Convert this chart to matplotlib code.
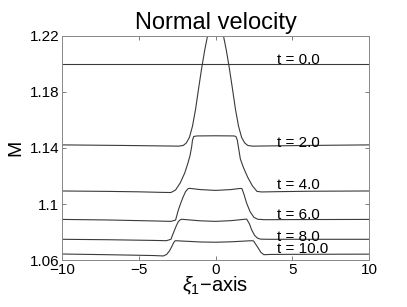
import matplotlib
matplotlib.use('Agg')
import matplotlib.pyplot as plt

plt.rcParams['font.family'] = ['Liberation Sans', 'DejaVu Sans']
plt.rcParams['mathtext.fontset'] = 'custom'
plt.rcParams['mathtext.rm'] = 'Liberation Sans'
plt.rcParams['mathtext.it'] = 'Liberation Sans:italic'

# curves: (x, M) for each time
x0 = [-10, 10]
m0 = [1.2000, 1.2000]

x2 = [-10, -6, -3, -2.4, -2.1, -1.9, -1.7, -1.5, -1.3, -1.1, -0.9, -0.7, -0.5, -0.3, 0,
      0.3, 0.5, 0.7, 0.9, 1.1, 1.3, 1.5, 1.7, 1.9, 2.1, 2.4, 3, 6, 10]
m2 = [1.1422, 1.1418, 1.1414, 1.1413, 1.1418, 1.1436, 1.1475, 1.1555, 1.1675, 1.1825, 1.1970, 1.2100, 1.2210, 1.2280, 1.2310,
      1.2280, 1.2210, 1.2100, 1.1970, 1.1825, 1.1675, 1.1555, 1.1475, 1.1436, 1.1418, 1.1413, 1.1414, 1.1418, 1.1422]

x4 = [-10, -7, -5, -3.5, -2.9, -2.6, -2.3, -2.0, -1.8, -1.65, -1.55, -1.5, -1.42, -1.2, 0, 1.2,
      1.33, 1.42, 1.5, 1.62, 1.82, 2.1, 2.4, 2.7, 3.0, 4, 6, 10]
m4 = [1.1093, 1.1090, 1.1087, 1.1083, 1.1082, 1.1100, 1.1150, 1.1222, 1.1290, 1.1350, 1.1410, 1.1455, 1.1482, 1.1486, 1.1487, 1.1486,
      1.1482, 1.1455, 1.1400, 1.1320, 1.1260, 1.1190, 1.1130, 1.1090, 1.1086, 1.1088, 1.1091, 1.1093]

x6 = [-10, -7, -4, -2.9, -2.6, -2.42, -2.25, -2.1, -1.95, -1.8, -1.7, -1.0, 0, 1.0, 1.6,
      1.72, 1.85, 2.03, 2.25, 2.5, 2.75, 3.2, 6, 10]
m6 = [1.0890, 1.0886, 1.0879, 1.0876, 1.0885, 1.0957, 1.1010, 1.1052, 1.1088, 1.1108, 1.1112, 1.1103, 1.1097, 1.1103, 1.1111,
      1.1110, 1.1070, 1.1005, 1.0945, 1.0905, 1.0891, 1.0888, 1.0889, 1.0890]

x8 = [-10, -7, -4, -3.2, -2.9, -2.75, -2.55, -2.42, -2.3, -2.2, -1.0, 0, 1.0, 1.9,
      2.03, 2.2, 2.36, 2.55, 2.75, 2.95, 3.5, 6, 10]
m8 = [1.0748, 1.0745, 1.0740, 1.0738, 1.0748, 1.0791, 1.0845, 1.0874, 1.0887, 1.0891, 1.0880, 1.0876, 1.0881, 1.0891,
      1.0892, 1.0860, 1.0814, 1.0775, 1.0755, 1.0749, 1.0748, 1.0748, 1.0748]

x10 = [-10, -7, -4, -3.4, -3.18, -3.0, -2.85, -2.72, -2.62, -1.0, 0, 1.0, 2.35,
       2.48, 2.62, 2.79, 2.95, 3.15, 3.6, 6, 10]
m10 = [1.0643, 1.0638, 1.0632, 1.0629, 1.0640, 1.0665, 1.0695, 1.0725, 1.0738, 1.0729, 1.0727, 1.0730, 1.0738,
       1.0736, 1.0712, 1.0684, 1.0655, 1.0638, 1.0640, 1.0641, 1.0642]

labels = ['t = 0.0', 't = 2.0', 't = 4.0', 't = 6.0', 't = 8.0', 't = 10.0']
label_y = [1.2030, 1.1437, 1.1135, 1.0924, 1.0762, 1.0678]

fig = plt.figure(figsize=(4.07, 3.07), dpi=100)
ax = fig.add_axes([0.152, 0.153, 0.755, 0.730])

col = '#3a3a3a'
for xs, ms in [(x0, m0), (x2, m2), (x4, m4), (x6, m6), (x8, m8), (x10, m10)]:
    ax.plot(xs, ms, '-', color=col, lw=0.8)

for lab, ly in zip(labels, label_y):
    ax.text(4.0, ly, lab, fontsize=11, va='center', ha='left', color='black')

ax.set_xlim(-10, 10)
ax.set_ylim(1.06, 1.22)
ax.set_xticks([-10, -5, 0, 5, 10])
ax.set_xticklabels(['\u221210', '\u22125', '0', '5', '10'])
ax.set_yticks([1.06, 1.1, 1.14, 1.18, 1.22])
ax.set_yticklabels(['1.06', '1.1', '1.14', '1.18', '1.22'])
ax.tick_params(direction='in', top=True, right=True, labelsize=11, length=3, width=0.6, color='#666666', pad=2)
for s in ax.spines.values():
    s.set_color('#888888')
    s.set_linewidth(0.7)

ax.set_title('Normal velocity', fontsize=17, pad=5)
ax.set_xlabel('$\\xi_1$\u2212axis', fontsize=14.5, labelpad=-1)
ax.set_ylabel('M', fontsize=14, labelpad=4)

fig.savefig('out.png', dpi=100)
